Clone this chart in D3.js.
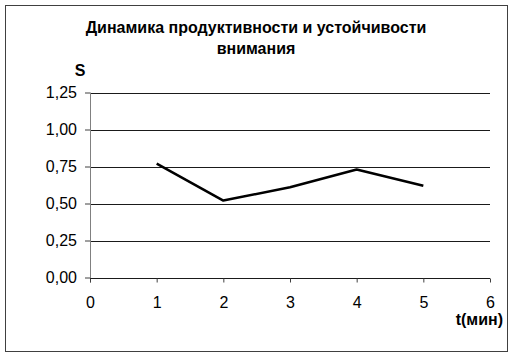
<!DOCTYPE html>
<html>
<head>
<meta charset="utf-8">
<script src="https://cdn.jsdelivr.net/npm/d3@7"></script>
<style>
  body { margin: 0; background: #fff; }
  svg { display: block; font-family: "Liberation Sans", Arial, sans-serif; }
</style>
</head>
<body>
<div id="chart"></div>
<script>
// Data
const minutes = [1, 2, 3, 4, 5];
const sValues = [0.77, 0.52, 0.61, 0.73, 0.62];
const xTicks = [0, 1, 2, 3, 4, 5, 6];
const yTicks = [0, 0.25, 0.5, 0.75, 1, 1.25];
const titleLines = ["Динамика продуктивности и устойчивости", "внимания"];

const width = 513, height = 358;
const plot = { left: 90, right: 490, top: 92.5, bottom: 277.5 };

const svg = d3.select("#chart")
  .append("svg")
    .attr("width", width)
    .attr("height", height);

// Outer frame
svg.append("rect")
  .attr("x", 5.5).attr("y", 5.5)
  .attr("width", 502).attr("height", 346)
  .attr("fill", "#fff")
  .attr("stroke", "#404040");

// Scales
const x = d3.scaleLinear().domain([0, 6]).range([plot.left, plot.right]);
const y = d3.scaleLinear().domain([0, 1.25]).range([plot.bottom, plot.top]);
const fmt = d => d3.format(".2f")(d).replace(".", ",");

// Gridlines
svg.append("g")
  .selectAll("line")
  .data(yTicks.filter(d => d > 0))
  .enter()
  .append("line")
    .attr("x1", x(0)).attr("x2", x(6))
    .attr("y1", d => Math.round(y(d)) + 0.5)
    .attr("y2", d => Math.round(y(d)) + 0.5)
    .attr("stroke", "#1a1a1a");

// Y axis
const yAxis = svg.append("g")
  .attr("transform", `translate(${x(0)},0)`)
  .call(d3.axisLeft(y).tickValues(yTicks).tickFormat(fmt).tickSize(5).tickPadding(8));
yAxis.select(".domain").attr("stroke", "#808080").attr("d", `M0.5,${plot.top}V${plot.bottom + 5}`);
yAxis.selectAll(".tick line").attr("stroke", "#404040");
yAxis.selectAll("text").style("font-size", "16px").attr("fill", "#000");

// X axis
const xAxis = svg.append("g")
  .attr("transform", `translate(0,${Math.round(plot.bottom) + 0.5})`)
  .call(d3.axisBottom(x).tickValues(xTicks).tickFormat(d3.format("d")).tickSize(4).tickPadding(14));
xAxis.select(".domain").attr("stroke", "#1a1a1a").attr("d", `M${x(0)},0H${x(6)}`);
xAxis.selectAll(".tick line").attr("stroke", "#404040");
xAxis.selectAll("text").style("font-size", "16px").attr("fill", "#000");

// Line
const line = d3.line()
  .x((d, i) => x(minutes[i]))
  .y(d => y(d));

svg.append("path")
  .datum(sValues)
  .attr("fill", "none")
  .attr("stroke", "#000")
  .attr("stroke-width", 2.5)
  .attr("stroke-linejoin", "round")
  .attr("d", line);

// Title
svg.append("text")
  .attr("x", 256)
  .attr("y", 33)
  .attr("text-anchor", "middle")
  .style("font-size", "16px")
  .style("font-weight", "bold")
  .selectAll("tspan")
  .data(titleLines)
  .enter()
  .append("tspan")
    .attr("x", 256)
    .attr("dy", (d, i) => i === 0 ? 0 : 21)
    .text(d => d);

// Axis labels
svg.append("text")
  .attr("x", 80).attr("y", 76)
  .attr("text-anchor", "middle")
  .style("font-size", "16px")
  .style("font-weight", "bold")
  .text("S");

svg.append("text")
  .attr("x", 503).attr("y", 325)
  .attr("text-anchor", "end")
  .style("font-size", "16px")
  .style("font-weight", "bold")
  .text("t(мин)");
</script>
</body>
</html>
